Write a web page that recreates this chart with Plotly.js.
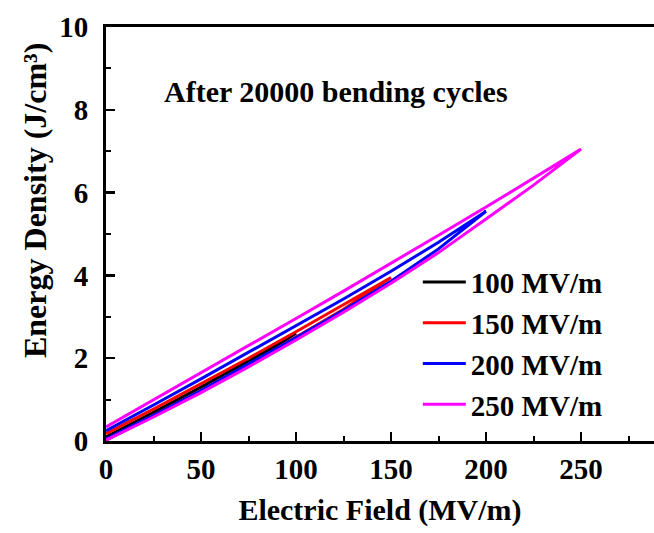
<!DOCTYPE html>
<html>
<head>
<meta charset="utf-8">
<script src="https://cdn.plot.ly/plotly-3.0.1.min.js"></script>
<style>html,body{margin:0;padding:0;background:#fff;}#chart{width:654px;height:533px;}</style>
</head>
<body>
<div id="chart"></div>
<script>
// Electric field (MV/m) and energy density (J/cm3) for each loop:
// charging branch 0 -> Emax, then discharging branch Emax -> 0
const seriesNames = ["100 MV/m", "150 MV/m", "200 MV/m", "250 MV/m"];
const seriesColors = ["#000000", "#ff0000", "#0000ff", "#ff00ff"];

const field100 = [0, 25, 50, 75, 100, 75, 50, 25, 0];
const energy100 = [0.02, 0.60, 1.20, 1.86, 2.60, 1.94, 1.30, 0.69, 0.10];

const field150 = [0, 25, 50, 75, 100, 125, 150, 125, 100, 75, 50, 25, 0];
const energy150 = [0.03, 0.61, 1.21, 1.84, 2.50, 3.18, 3.95, 3.29, 2.64, 2.00, 1.38, 0.77, 0.18];

const field200 = [0, 25, 50, 75, 100, 125, 150, 175, 200, 175, 150, 125, 100, 75, 50, 25, 0];
const energy200 = [0.05, 0.62, 1.22, 1.85, 2.50, 3.16, 3.86, 4.64, 5.55, 4.80, 4.10, 3.43, 2.78, 2.14, 1.50, 0.87, 0.25];

const field250 = [0, 25, 50, 75, 100, 125, 150, 175, 200, 225, 250, 225, 200, 175, 150, 125, 100, 75, 50, 25, 0];
const energy250 = [0.02, 0.58, 1.17, 1.79, 2.44, 3.11, 3.81, 4.55, 5.36, 6.18, 7.05, 6.34, 5.65, 4.97, 4.29, 3.62, 2.96, 2.30, 1.64, 0.99, 0.34];

const xTicks = [0, 50, 100, 150, 200, 250];
const yTicks = [0, 2, 4, 6, 8, 10];

const fields = [field100, field150, field200, field250];
const energies = [energy100, energy150, energy200, energy250];

const traces = seriesNames.map((n, i) => ({
  x: fields[i], y: energies[i], name: n, type: "scatter", mode: "lines",
  line: {color: seriesColors[i], width: 3}
}));

const FONT = "'Liberation Serif', 'Times New Roman', serif";
const axisCommon = {
  showgrid: false, zeroline: false, showline: true, linecolor: "#000", linewidth: 3,
  ticks: "inside", ticklen: 9, tickwidth: 2.5, tickcolor: "#000",
  tickfont: {family: FONT, size: 29, color: "#000", weight: "bold"},
  minor: {ticks: "inside", ticklen: 5, tickwidth: 2, tickcolor: "#000", showgrid: false}
};

const layout = {
  width: 654, height: 533,
  margin: {l: 106, r: 0, t: 27, b: 92},
  paper_bgcolor: "#fff", plot_bgcolor: "#fff",
  showlegend: true,
  xaxis: Object.assign({}, axisCommon, {
    range: [0, 288.4], tickmode: "array", tickvals: xTicks, ticktext: xTicks.map(String),
    mirror: true, ticklabelstandoff: 0,
    minor: Object.assign({}, axisCommon.minor, {tickmode: "linear", tick0: 25, dtick: 50}),
    title: {text: "Electric Field (MV/m)", font: {family: FONT, size: 30, color: "#000", weight: "bold"}, standoff: 16}
  }),
  yaxis: Object.assign({}, axisCommon, {
    range: [0, 10], tickmode: "array", tickvals: yTicks, ticktext: yTicks.map(String),
    mirror: false, ticklabelstandoff: 9,
    minor: Object.assign({}, axisCommon.minor, {tickmode: "linear", tick0: 1, dtick: 2})
  }),
  legend: {
    x: 0.569, y: 0.445, xanchor: "left", yanchor: "top",
    bgcolor: "rgba(0,0,0,0)", borderwidth: 0, itemwidth: 43,
    font: {family: FONT, size: 29, color: "#000", weight: "bold"}
  },
  annotations: [{
    text: "After 20000 bending cycles", xref: "paper", yref: "paper",
    x: 0.4206, y: 0.845, xanchor: "center", yanchor: "middle", showarrow: false,
    font: {family: FONT, size: 30, color: "#000", weight: "bold"}
  }, {
    text: "Energy Density (J/cm³)", xref: "paper", yref: "paper", textangle: -90,
    x: -0.1296, y: 0.582, xanchor: "center", yanchor: "middle", showarrow: false,
    font: {family: FONT, size: 32, color: "#000", weight: "bold"}
  }]
};

Plotly.newPlot("chart", traces, layout, {displayModeBar: false, staticPlot: true});
</script>
</body>
</html>
